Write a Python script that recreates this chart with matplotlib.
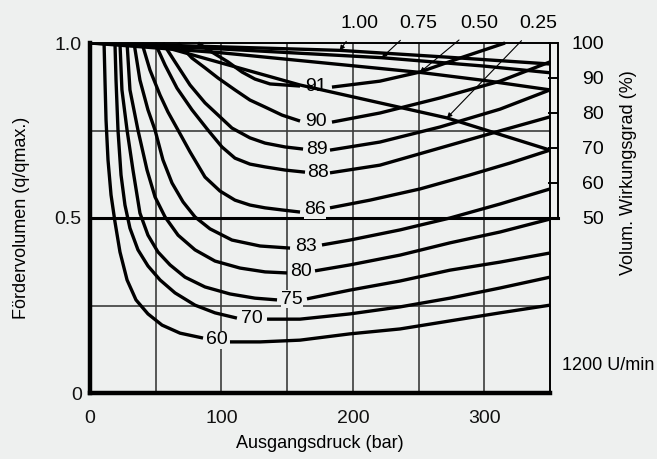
import matplotlib
matplotlib.use("Agg")
import matplotlib.pyplot as plt
import numpy as np

plt.rcParams['font.family'] = ['Liberation Sans', 'DejaVu Sans']

BG = '#eef0ef'
nan = np.nan

# total efficiency contours (bar, q/qmax), nan marks the gap for the label
c60_x = [10.7, 11.4, 12.2, 13.7, 16.0, 19.0, 22.8, 28.2, 35.0, 44.1, 54.8, 68.5, 86.0, nan, 106.5, 129.4, 159.8, 197.8, 235.9, 273.9, 312, 350]
c60_y = [1.0, 0.894, 0.780, 0.666, 0.566, 0.489, 0.403, 0.323, 0.266, 0.226, 0.194, 0.171, 0.157, nan, 0.146, 0.146, 0.151, 0.169, 0.183, 0.206, 0.229, 0.251]
c70_x = [19.0, 19.8, 21.3, 23.6, 26.6, 30.4, 36.5, 44.1, 53.3, 64.7, 79.9, 95.1, 111.8, nan, 134.7, 159.8, 197.8, 235.9, 273.9, 312, 350]
c70_y = [1.0, 0.894, 0.751, 0.623, 0.537, 0.471, 0.409, 0.363, 0.323, 0.286, 0.251, 0.229, 0.214, nan, 0.211, 0.211, 0.226, 0.246, 0.271, 0.300, 0.331]
c75_x = [22.8, 24.3, 28.2, 32.7, 38.0, 44.1, 51.7, 60.9, 72.3, 87.5, 106.5, 125.5, 142.3, nan, 165.1, 197.8, 235.9, 273.9, 312, 350]
c75_y = [1.0, 0.866, 0.751, 0.637, 0.514, 0.451, 0.403, 0.366, 0.331, 0.303, 0.283, 0.271, 0.266, nan, 0.269, 0.294, 0.320, 0.351, 0.374, 0.40]
c80_x = [28.2, 30.4, 36.5, 43.4, 49.5, 57.1, 67.0, 79.9, 95.1, 114.1, 133.2, 149.9, nan, 171.2, 197.8, 235.9, 273.9, 312, 350]
c80_y = [1.0, 0.866, 0.751, 0.637, 0.560, 0.503, 0.451, 0.409, 0.377, 0.357, 0.346, 0.343, nan, 0.349, 0.366, 0.394, 0.429, 0.460, 0.497]
c83_x = [33.5, 38.0, 44.1, 49.5, 55.5, 62.4, 70.8, 79.9, 91.3, 108.0, 129.4, 152.2, nan, 176.5, 197.8, 235.9, 273.9, 312, 350]
c83_y = [1.0, 0.894, 0.809, 0.751, 0.666, 0.60, 0.546, 0.503, 0.469, 0.437, 0.420, 0.414, nan, 0.423, 0.437, 0.466, 0.50, 0.540, 0.583]
c86_x = [39.5, 45.6, 53.3, 59.3, 67.0, 76.1, 87.5, 98.9, 110.3, 121.7, 133.2, 146.1, 159.8, nan, 182.6, 213.0, 251.1, 289.1, 319.6, 350]
c86_y = [1.0, 0.923, 0.851, 0.803, 0.751, 0.689, 0.617, 0.577, 0.551, 0.537, 0.529, 0.523, 0.517, nan, 0.529, 0.551, 0.583, 0.623, 0.657, 0.694]
c88_x = [49.5, 57.1, 66.2, 77.6, 89.8, 100.4, 110.3, 121.7, 133.2, 148.4, 163.6, nan, 182.6, 220.6, 266.3, 312, 350]
c88_y = [1.0, 0.937, 0.871, 0.809, 0.751, 0.703, 0.671, 0.654, 0.646, 0.637, 0.631, nan, 0.629, 0.651, 0.70, 0.749, 0.789]
c89_x = [55.5, 64.7, 76.1, 87.5, 98.9, 108.0, 121.7, 133.2, 148.4, 162.1, nan, 182.6, 220.6, 266.3, 312, 350]
c89_y = [1.0, 0.946, 0.88, 0.829, 0.789, 0.757, 0.729, 0.714, 0.703, 0.697, nan, 0.694, 0.717, 0.760, 0.811, 0.866]
c90_x = [67.0, 77.6, 87.5, 97.4, 110.3, 121.7, 133.2, 146.1, 159.8, nan, 184.1, 220.6, 266.3, 312, 350]
c90_y = [1.0, 0.957, 0.929, 0.90, 0.866, 0.837, 0.817, 0.794, 0.777, nan, 0.774, 0.80, 0.843, 0.891, 0.946]
c91_x = [82.2, 92.8, 105.0, 115.7, 125.5, 137.0, 159.8, nan, 184.1, 220.6, 251.0, 281.5, 315.8]
c91_y = [1.0, 0.974, 0.946, 0.917, 0.897, 0.883, 0.877, nan, 0.874, 0.891, 0.917, 0.957, 1.0]

levels = ['60', '70', '75', '80', '83', '86', '88', '89', '90', '91']
curves_x = [c60_x, c70_x, c75_x, c80_x, c83_x, c86_x, c88_x, c89_x, c90_x, c91_x]
curves_y = [c60_y, c70_y, c75_y, c80_y, c83_y, c86_y, c88_y, c89_y, c90_y, c91_y]

# volumetric efficiency (%) for displacement settings
vol_labels = ['1.00', '0.75', '0.50', '0.25']
v100_x = [0, 100, 190, 270, 350]
v100_y = [100, 98.9, 97.9, 96.0, 94.0]
v075_x = [0, 100, 222, 300, 350]
v075_y = [100, 98.3, 95.8, 93.4, 91.5]
v050_x = [0, 100, 251, 300, 350]
v050_y = [100, 97.2, 91.6, 89.3, 86.6]
v025_x = [45.6, 159.8, 271.6, 350]
v025_y = [100, 88, 78.6, 69.4]
vol_x = [v100_x, v075_x, v050_x, v025_x]
vol_y = [v100_y, v075_y, v050_y, v025_y]
vol_tip = [2, 2, 2, 2]   # index of the point the leader arrow touches

fig = plt.figure(figsize=(6.57, 4.59), dpi=100, facecolor=BG)
ax = fig.add_axes([90 / 657, 66 / 459, 460 / 657, 350 / 459], facecolor=BG)
ax.set_xlim(0, 350)
ax.set_ylim(0, 1.0)

# grid
for gx in [50, 100, 150, 200, 250, 300]:
    ax.axvline(gx, color='#3c3c3c', lw=1.2, zorder=1)
for gy in [0.25, 0.75]:
    ax.axhline(gy, color='#3c3c3c', lw=1.2, zorder=1)
ax.axhline(0.5, xmin=0, xmax=(558 - 90) / 460, color='black', lw=2.2, zorder=1, clip_on=False)

for sp in ['left', 'bottom']:
    ax.spines[sp].set_linewidth(3.2)
for sp in ['top', 'right']:
    ax.spines[sp].set_linewidth(1.4)

ax.set_xticks([0, 100, 200, 300])
ax.set_xticklabels(['0', '100', '200', '300'])
ax.set_yticks([0, 0.5, 1.0])
ax.set_yticklabels(['0', '0.5', '1.0'])
ax.tick_params(length=0, labelsize=14, colors='#111111')
ax.tick_params(axis='x', pad=12)
ax.tick_params(axis='y', pad=6)
ax.set_xlabel('Ausgangsdruck (bar)', fontsize=13, labelpad=6)
ax.set_ylabel('Fördervolumen (q/qmax.)', fontsize=13, labelpad=18)

for lev, xs, ys in zip(levels, curves_x, curves_y):
    xs = np.array(xs, float)
    ys = np.array(ys, float)
    ax.plot(xs, ys, color='black', lw=2.4, zorder=3, clip_on=False,
            solid_joinstyle='round', solid_capstyle='butt')
    i = int(np.where(np.isnan(xs))[0][0])
    ax.text((xs[i - 1] + xs[i + 1]) / 2, (ys[i - 1] + ys[i + 1]) / 2, lev,
            ha='center', va='center', fontsize=14, zorder=5,
            bbox=dict(fc=BG, ec='none', pad=0.3))

# right axis: volumetric efficiency
ax2 = ax.twinx()
ax2.set_ylim(0, 100)
for sp in ['left', 'top', 'bottom']:
    ax2.spines[sp].set_visible(False)
ax2.spines['right'].set_bounds(50, 100)
ax2.spines['right'].set_position(('outward', 6))
ax2.spines['right'].set_linewidth(1.4)
ax2.set_yticks([50, 60, 70, 80, 90, 100])
ax2.tick_params(axis='y', direction='in', length=7, width=1.4, labelsize=14, pad=33)
for t in ax2.get_yticklabels():
    t.set_ha('right')
ax2.set_ylabel('Volum. Wirkungsgrad (%)', fontsize=13)
ax2.yaxis.set_label_coords(1.152, 0.629)

for xs, ys in zip(vol_x, vol_y):
    ax2.plot(xs, ys, color='black', lw=2.4, zorder=3, solid_joinstyle='round')

text_x = [205, 250, 296, 341]
for lab, xs, ys, k, tx in zip(vol_labels, vol_x, vol_y, vol_tip, text_x):
    ax2.annotate(lab, xy=(xs[k], ys[k]), xytext=(tx, 105.6),
                 ha='center', va='center', fontsize=14, annotation_clip=False,
                 arrowprops=dict(arrowstyle='-|>', color='black', lw=0.8,
                                 mutation_scale=7, shrinkA=6, shrinkB=0))

fig.text(562 / 657, 1 - 365 / 459, '1200 U/min', fontsize=13, ha='left', va='center')

fig.savefig('out.png', dpi=100, facecolor=BG)
